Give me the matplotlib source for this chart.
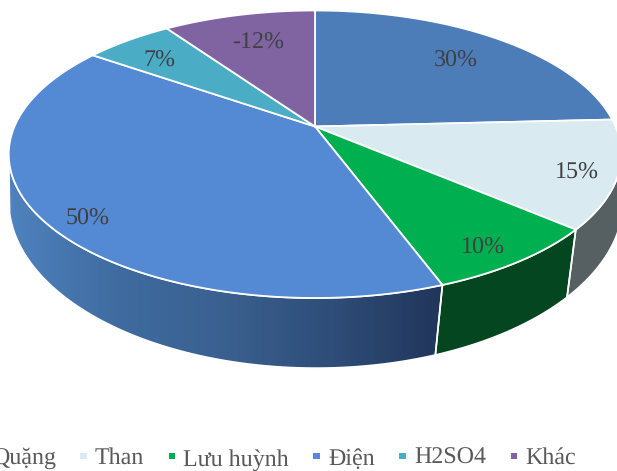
import numpy as np
import matplotlib
matplotlib.use("Agg")
import matplotlib.pyplot as plt
from matplotlib.patches import Polygon, Rectangle
from matplotlib.colors import LinearSegmentedColormap

categories = ["Quặng", "Than", "Lưu huỳnh", "Điện", "H2SO4", "Khác"]
values = [30, 15, 10, 50, 7, -12]
colors = ["#4C7DB9", "#D9EAF1", "#00B050", "#5489D4", "#4BACC6", "#8064A2"]

plt.rcParams["font.family"] = ["Liberation Serif", "DejaVu Serif"]
plt.rcParams["text.hinting"] = "none"
plt.rcParams["text.hinting_factor"] = 1
fig = plt.figure(figsize=(6.17, 4.71), dpi=100)
ax = fig.add_axes([0, 0, 1, 1])
ax.set_xlim(0, 617)
ax.set_ylim(471, 0)
ax.axis("off")

K_TOP = 0.193
K_BOTTOM = 0.12


def ring(theta, a, b, cy, k, cx=315.0):
    x, y = np.sin(theta), np.cos(theta)
    w = 1 + k * y
    return np.column_stack([cx + a * x / w, cy - b * y / w])


def top(theta):
    return ring(theta, 300.5, 138.4, 126.5, K_TOP)


def bottom(theta):
    return ring(theta, 305.0, 165.0, 180.6, K_BOTTOM, cx=316.0)


sizes = np.abs(values, dtype=float)
edges = np.concatenate([[0], np.cumsum(sizes)]) / sizes.sum() * 2 * np.pi
right_limit = np.arccos(-K_TOP)
left_limit = 2 * np.pi - right_limit

side_styles = {
    1: ["#566062", "#566062"],
    2: ["#04461F", "#04461F"],
    3: ["#4F82BE", "#3F6BA0", "#3A608F", "#2E4D78", "#21355A"],
}
for i in (3, 2, 1):
    t0 = max(edges[i], right_limit)
    t1 = min(edges[i + 1], left_limit)
    t = np.linspace(t0, t1, 160)
    pts = np.vstack([top(t), bottom(t[::-1])])
    poly = Polygon(pts, closed=True, facecolor="none", edgecolor="white", lw=1.2, zorder=3)
    ax.add_patch(poly)
    cmap = LinearSegmentedColormap.from_list(f"side{i}", side_styles[i])
    im = ax.imshow(
        np.linspace(1, 0, 256)[None, :],
        extent=[pts[:, 0].max(), pts[:, 0].min(), 471, 0],
        cmap=cmap,
        aspect="auto",
        zorder=2,
    )
    im.set_clip_path(poly)
ax.set_xlim(0, 617)
ax.set_ylim(471, 0)

for i, c in enumerate(colors):
    t = np.linspace(edges[i], edges[i + 1], 160)
    pts = np.vstack([[[315.0, 126.5]], top(t)])
    ax.add_patch(Polygon(pts, closed=True, facecolor=c, edgecolor="white", lw=1.3, zorder=4, joinstyle="round"))

label_xy = [(456, 61), (577, 173), (483, 248), (88, 219), (159, 61), (258, 43)]
for v, (x, y) in zip(values, label_xy):
    ax.text(x, y, f"{v}%", ha="center", va="center", fontsize=17, color="#404040", zorder=5)

legend_marker_x = [-22, 80, 168.5, 313, 399, 510.5]
legend_text_x = [-8, 94.5, 183, 328, 414, 525.7]
legend_base_y = [464, 463.5, 465.7, 465, 463.5, 464]
for name, c, mx, tx, by in zip(categories, colors, legend_marker_x, legend_text_x, legend_base_y):
    ax.add_patch(Rectangle((mx, 452.7), 6.7, 6.7, facecolor=c, edgecolor="none", zorder=5))
    ax.text(tx, by, name, ha="left", va="baseline", fontsize=17.4, color="#595959", zorder=5)

fig.savefig("out.png", dpi=100)
